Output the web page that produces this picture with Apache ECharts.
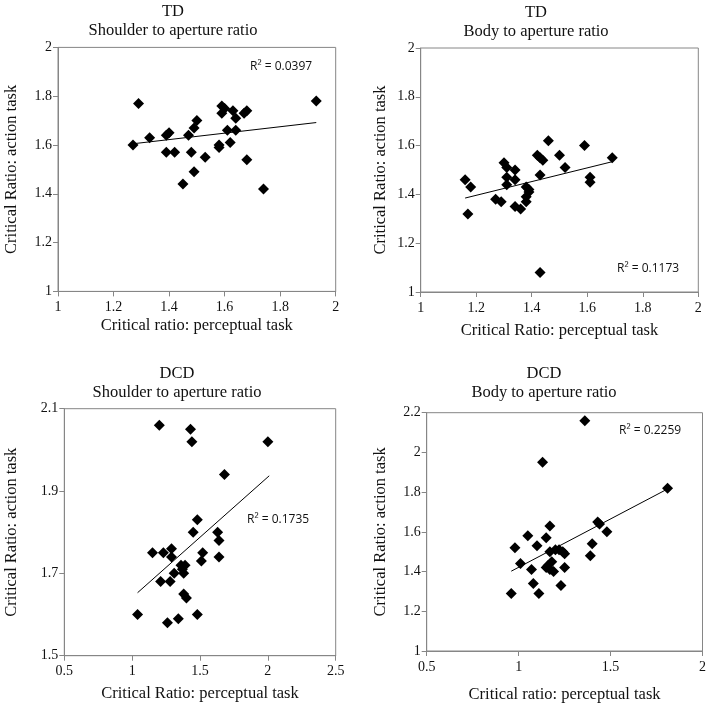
<!DOCTYPE html>
<html>
<head>
<meta charset="utf-8">
<script src="https://cdn.jsdelivr.net/npm/echarts@6/dist/echarts.min.js"></script>
<style>
html,body{margin:0;padding:0;background:#fff;}
#chart{width:709px;height:704px;}
</style>
</head>
<body>
<div id="chart"></div>
<script>
// TD, shoulder to aperture ratio
var tdShX = [1.27,1.29,1.33,1.39,1.40,1.39,1.42,1.47,1.48,1.49,1.50,1.49,1.45,1.53,1.58,1.58,1.59,1.59,1.60,1.61,1.62,1.63,1.64,1.64,1.67,1.68,1.68,1.74,1.93];
var tdShY = [1.60,1.77,1.63,1.64,1.65,1.57,1.57,1.64,1.57,1.67,1.70,1.49,1.44,1.55,1.60,1.59,1.76,1.73,1.75,1.66,1.61,1.74,1.66,1.71,1.73,1.74,1.54,1.42,1.78];
var tdShFitX = [1.27,1.93];
var tdShFitY = [1.605,1.692];

// TD, body to aperture ratio
var tdBoX = [1.16,1.18,1.17,1.27,1.29,1.30,1.31,1.31,1.31,1.34,1.34,1.34,1.36,1.38,1.39,1.39,1.38,1.38,1.42,1.43,1.44,1.43,1.46,1.50,1.52,1.59,1.61,1.61,1.69,1.43];
var tdBoY = [1.46,1.43,1.32,1.38,1.37,1.53,1.51,1.47,1.44,1.50,1.46,1.35,1.34,1.43,1.42,1.41,1.39,1.37,1.56,1.55,1.54,1.48,1.62,1.56,1.51,1.60,1.47,1.45,1.55,1.08];
var tdBoFitX = [1.16,1.69];
var tdBoFitY = [1.385,1.534];

// DCD, shoulder to aperture ratio
var dcdShX = [1.20,1.43,1.44,2.00,1.68,1.48,1.45,1.63,1.64,1.64,1.52,1.51,1.15,1.23,1.29,1.29,1.36,1.39,1.37,1.31,1.38,1.21,1.28,1.38,1.40,1.04,1.26,1.34,1.48];
var dcdShY = [2.06,2.05,2.02,2.02,1.94,1.83,1.80,1.80,1.78,1.74,1.75,1.73,1.75,1.75,1.76,1.74,1.72,1.72,1.71,1.70,1.70,1.68,1.68,1.65,1.64,1.60,1.58,1.59,1.60];
var dcdShFitX = [1.04,2.01];
var dcdShFitY = [1.653,1.937];

// DCD, body to aperture ratio
var dcdBoX = [1.36,1.13,1.81,1.43,1.44,1.48,1.40,1.39,1.17,1.05,1.15,0.98,1.10,1.17,1.20,1.22,1.24,1.25,1.01,1.07,1.16,1.18,1.15,1.17,1.19,1.25,1.08,1.23,0.96,1.11];
var dcdBoY = [2.16,1.95,1.82,1.65,1.64,1.60,1.54,1.48,1.63,1.58,1.57,1.52,1.53,1.50,1.51,1.51,1.50,1.49,1.44,1.41,1.43,1.45,1.42,1.41,1.40,1.42,1.34,1.33,1.29,1.29];
var dcdBoFitX = [0.96,1.81];
var dcdBoFitY = [1.402,1.816];

var r2Labels = ['R² = 0.0397','R² = 0.1173','R² = 0.1735','R² = 0.2259'];
var groupNames = ['TD','TD','DCD','DCD'];
var ratioNames = ['Shoulder to aperture ratio','Body to aperture ratio','Shoulder to aperture ratio','Body to aperture ratio'];
var xNames = ['Critical ratio: perceptual task','Critical Ratio: perceptual task','Critical Ratio: perceptual task','Critical ratio: perceptual task'];
var yName = 'Critical Ratio: action task';

var serif = 'Liberation Serif';
var frameColor = '#868686';

function pairs(xs, ys) {
	var out = [];
	for (var i = 0; i < xs.length; i++) {
		out.push([xs[i], ys[i]]);
	}
	return out;
}

var panels = [
	{grid:{left:58, top:47.4, width:277.7, height:244}, x:[1,2,0.2], y:[1,2,0.2], pts:pairs(tdShX,tdShY), fit:pairs(tdShFitX,tdShFitY), xGap:26, yGap:38, titleX:173, titleY:2, r2:[250,69]},
	{grid:{left:420.7, top:48, width:277.6, height:244}, x:[1,2,0.2], y:[1,2,0.2], pts:pairs(tdBoX,tdBoY), fit:pairs(tdBoFitX,tdBoFitY), xGap:30, yGap:32, titleX:536, titleY:3, r2:[617,271]},
	{grid:{left:64.3, top:408.7, width:271.4, height:247}, x:[0.5,2.5,0.5], y:[1.5,2.1,0.2], pts:pairs(dcdShX,dcdShY), fit:pairs(dcdShFitX,dcdShFitY), xGap:29, yGap:44, titleX:177, titleY:364, r2:[247,522]},
	{grid:{left:426.7, top:412.7, width:277.3, height:244}, x:[0.5,2,0.5], y:[1,2.2,0.2], pts:pairs(dcdBoX,dcdBoY), fit:pairs(dcdBoFitX,dcdBoFitY), xGap:35, yGap:38, titleX:544, titleY:364, r2:[619,433]}
];

function tickFmt(v) {
	return String(Math.round(v * 10) / 10);
}

var option = {
	animation: false,
	backgroundColor: '#fff',
	title: [],
	grid: [],
	xAxis: [],
	yAxis: [],
	series: [],
	graphic: []
};

for (var i = 0; i < panels.length; i++) {
	var p = panels[i];
	option.title.push({
		text: groupNames[i] + '\n' + ratioNames[i],
		left: p.titleX,
		top: p.titleY,
		padding: 0,
		textAlign: 'center',
		textStyle: {fontFamily: serif, fontSize: 16.5, fontWeight: 'normal', color: '#111', lineHeight: 19}
	});
	option.grid.push({
		left: p.grid.left, top: p.grid.top, width: p.grid.width, height: p.grid.height,
		show: true, borderColor: frameColor, borderWidth: 1, backgroundColor: 'transparent'
	});
	option.xAxis.push({
		type: 'value', gridIndex: i,
		min: p.x[0], max: p.x[1], interval: p.x[2],
		name: xNames[i], nameLocation: 'middle', nameGap: p.xGap,
		nameTextStyle: {fontFamily: serif, fontSize: 16.5, color: '#111'},
		axisLine: {show: true, onZero: false, lineStyle: {color: frameColor, width: 1}},
		axisTick: {show: true, length: 5, lineStyle: {color: frameColor}},
		axisLabel: {fontFamily: serif, fontSize: 14, color: '#111', margin: 9, formatter: tickFmt},
		splitLine: {show: false}
	});
	option.yAxis.push({
		type: 'value', gridIndex: i,
		min: p.y[0], max: p.y[1], interval: p.y[2],
		name: yName, nameLocation: 'middle', nameGap: p.yGap,
		nameTextStyle: {fontFamily: serif, fontSize: 16.5, color: '#111'},
		axisLine: {show: true, onZero: false, lineStyle: {color: frameColor, width: 1}},
		axisTick: {show: true, length: 5, lineStyle: {color: frameColor}},
		axisLabel: {fontFamily: serif, fontSize: 14, color: '#111', margin: 6, formatter: tickFmt},
		splitLine: {show: false}
	});
	option.series.push({
		type: 'line', xAxisIndex: i, yAxisIndex: i,
		data: p.fit, symbol: 'none', silent: true,
		lineStyle: {color: '#000', width: 1}
	});
	option.series.push({
		type: 'scatter', xAxisIndex: i, yAxisIndex: i,
		data: p.pts, symbol: 'diamond', symbolSize: 11,
		itemStyle: {color: '#000', opacity: 1}
	});
	option.graphic.push({
		type: 'text', left: p.r2[0], top: p.r2[1] - 8,
		style: {text: r2Labels[i], font: '12px "Open Sans", sans-serif', fill: '#111'}
	});
}

var myChart = echarts.init(document.getElementById('chart'));
myChart.setOption(option);
</script>
</body>
</html>
